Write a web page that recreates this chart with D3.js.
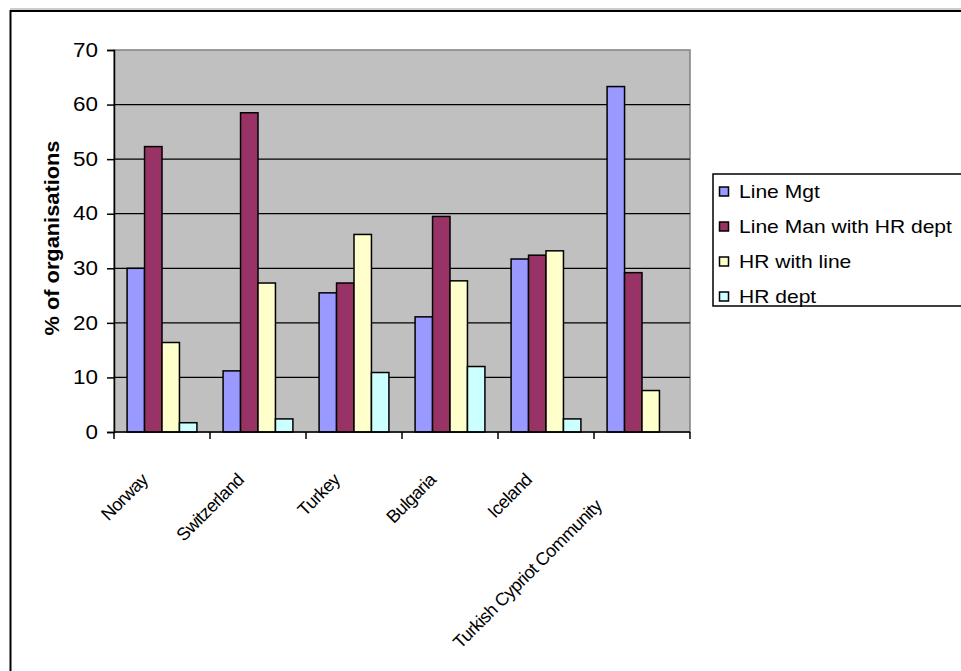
<!DOCTYPE html>
<html>
<head>
<meta charset="utf-8">
<script src="https://cdn.jsdelivr.net/npm/d3@7"></script>
<style>
  html, body { margin: 0; padding: 0; background: #fff; }
  svg { display: block; }
  text { font-family: Arial, "Liberation Sans", sans-serif; fill: #000; }
</style>
</head>
<body>
<svg id="chart" width="961" height="671"></svg>
<script>
// ---- data ----
const categories = ["Norway", "Switzerland", "Turkey", "Bulgaria", "Iceland", "Turkish Cypriot Community"];
const seriesNames = ["Line Mgt", "Line Man with HR dept", "HR with line", "HR dept"];
const lineMgt     = [30.0, 11.2, 25.5, 21.1, 31.7, 63.3];
const lineManHR   = [52.3, 58.5, 27.3, 39.5, 32.4, 29.2];
const hrWithLine  = [16.4, 27.3, 36.2, 27.7, 33.2, 7.6];
const hrDept      = [1.7, 2.4, 10.9, 12.0, 2.4, null];
const yTicks      = [0, 10, 20, 30, 40, 50, 60, 70];
const yTitle      = "% of organisations";
const colors      = ["#9999FF", "#993366", "#FFFFCC", "#CCFFFF"];

const seriesValues = [lineMgt, lineManHR, hrWithLine, hrDept];

// ---- layout ----
const svg = d3.select("#chart");
const plot = { left: 114, right: 690, top: 50, bottom: 432 };
const FONT = "Arial, 'Liberation Sans', sans-serif";

// outer frame
svg.append("line").attr("x1", 10).attr("x2", 961).attr("y1", 9).attr("y2", 9)
  .attr("stroke", "#999").attr("stroke-width", 1);
svg.append("line").attr("x1", 10).attr("x2", 961).attr("y1", 11).attr("y2", 11)
  .attr("stroke", "#000").attr("stroke-width", 2);
svg.append("line").attr("x1", 10.5).attr("x2", 10.5).attr("y1", 10).attr("y2", 671)
  .attr("stroke", "#000").attr("stroke-width", 2);

const x0 = d3.scaleBand().domain(categories).range([plot.left, plot.right]).padding(0);
const bw = x0.bandwidth();
// Excel gap width 150%: 4 bars + 1.5 bar-widths of gap per category
const barW = bw / 5.5;
const groupOffset = (bw - 4 * barW) / 2;

const y = d3.scaleLinear().domain([0, 70]).range([plot.bottom, plot.top]);

// plot background
svg.append("rect")
  .attr("x", plot.left).attr("y", plot.top)
  .attr("width", plot.right - plot.left).attr("height", plot.bottom - plot.top)
  .attr("fill", "#C0C0C0").attr("stroke", "#808080").attr("stroke-width", 1.5);

// gridlines
svg.append("g").selectAll("line")
  .data(yTicks.filter(t => t > 0 && t < 70))
  .join("line")
  .attr("x1", plot.left).attr("x2", plot.right)
  .attr("y1", d => y(d)).attr("y2", d => y(d))
  .attr("stroke", "#000").attr("stroke-width", 1.2);

// bars
const groups = svg.append("g").selectAll("g")
  .data(categories)
  .join("g")
  .attr("transform", d => `translate(${x0(d) + groupOffset},0)`);

groups.each(function(cat, ci) {
  const g = d3.select(this);
  seriesValues.forEach((vals, si) => {
    const v = vals[ci];
    if (v == null) return;
    g.append("rect")
      .attr("x", si * barW)
      .attr("y", y(v))
      .attr("width", barW)
      .attr("height", y(0) - y(v))
      .attr("fill", colors[si])
      .attr("stroke", "#000")
      .attr("stroke-width", 1.5);
  });
});

// y axis
const yAxis = d3.axisLeft(y).tickValues(yTicks).tickSize(7).tickPadding(9).tickFormat(d3.format("d"));
const yg = svg.append("g").attr("transform", `translate(${plot.left},0)`).call(yAxis);
yg.select(".domain").attr("stroke", "#000").attr("stroke-width", 1.5);
yg.selectAll(".tick line").attr("stroke", "#000").attr("stroke-width", 1.5);
yg.selectAll(".tick text")
  .attr("x", 0)
  .attr("transform", "translate(-16,0) scale(1.15,1)")
  .attr("font-size", 19.5).attr("font-family", FONT).attr("fill", "#000");

// x axis (ticks at band boundaries)
const boundaries = categories.map(c => x0(c)).concat([plot.right]);
svg.append("line").attr("x1", plot.left).attr("x2", plot.right)
  .attr("y1", plot.bottom).attr("y2", plot.bottom)
  .attr("stroke", "#000").attr("stroke-width", 1.5);
svg.append("g").selectAll("line").data(boundaries).join("line")
  .attr("x1", d => d).attr("x2", d => d)
  .attr("y1", plot.bottom).attr("y2", plot.bottom + 7)
  .attr("stroke", "#000").attr("stroke-width", 1.5);

// x labels
svg.append("g").selectAll("text").data(categories).join("text")
  .attr("transform", d => `translate(${x0(d) + bw / 2 - 13},${plot.bottom + 49}) rotate(-45)`)
  .attr("dx", (d, i) => i === categories.length - 1 ? -37 : 0)
  .attr("text-anchor", "end")
  .attr("font-size", 18)
  .attr("letter-spacing", -0.6)
  .text(d => d);

// y title
svg.append("text")
  .attr("transform", `translate(59,238) rotate(-90)`)
  .attr("text-anchor", "middle")
  .attr("font-size", 21)
  .attr("font-weight", "bold")
  .attr("textLength", 195)
  .attr("lengthAdjust", "spacingAndGlyphs")
  .text(yTitle);

// legend
const lg = svg.append("g");
lg.append("rect").attr("x", 713).attr("y", 174).attr("width", 260).attr("height", 132)
  .attr("fill", "#fff").attr("stroke", "#000").attr("stroke-width", 1.5);
const items = lg.selectAll("g.item").data(seriesNames).join("g")
  .attr("class", "item")
  .attr("transform", (d, i) => `translate(719,${198 + i * 35})`);
items.append("rect").attr("x", 0.5).attr("y", -11).attr("width", 9).attr("height", 9)
  .attr("fill", (d, i) => colors[i]).attr("stroke", "#000").attr("stroke-width", 1.5);
items.append("text").attr("x", 0)
  .attr("transform", "translate(20,0) scale(1.17,1)")
  .attr("font-size", 18).text(d => d);
</script>
</body>
</html>
